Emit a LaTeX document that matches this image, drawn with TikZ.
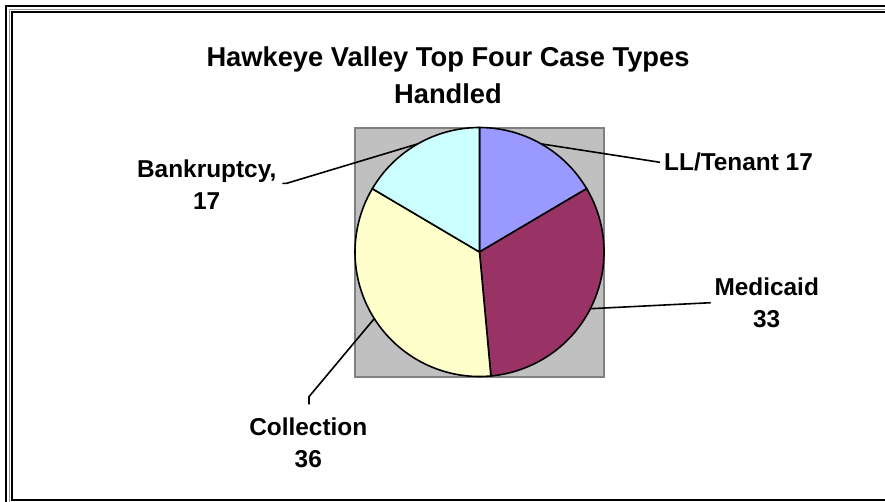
\documentclass[tikz,border=0pt]{standalone}
\usepackage{fontspec}
\setmainfont{Liberation Sans}
\usetikzlibrary{calc}
\definecolor{llcol}{RGB}{153,153,255}
\definecolor{medcol}{RGB}{153,51,102}
\definecolor{colcol}{RGB}{255,255,204}
\definecolor{bkcol}{RGB}{204,255,255}
\definecolor{plotbg}{RGB}{192,192,192}
\definecolor{plotedge}{RGB}{128,128,128}
\definecolor{framegray}{RGB}{150,150,150}
\begin{document}
\begin{tikzpicture}[x=1pt,y=-1pt,
  lbl/.style={font=\fontsize{24.4}{32}\selectfont\bfseries, align=center, inner sep=0pt},
  ttl/.style={font=\fontsize{27.3}{36.6}\selectfont\bfseries, align=center, inner sep=0pt},
  leader/.style={line width=1.6pt, black, line cap=butt},
  slice/.style={draw=black, line width=1.6pt, line join=round}]
\useasboundingbox (0,0) rectangle (885,501);
\fill[white] (0,0) rectangle (885,501);
% frame
\draw[line width=2.2pt] (6.2,6.2) rectangle (910,530);
\draw[line width=1.4pt, framegray] (9.3,9.3) rectangle (905,525);
\draw[line width=2.2pt] (12.3,12.3) rectangle (900,499.8);
% title
\node[ttl] (title) at (448,75) {Hawkeye Valley Top Four Case Types\\Handled};
% plot area
\draw[fill=plotbg, draw=plotedge, line width=2pt] (355,127.5) rectangle (604,376.5);
% pie
\coordinate (c) at (479.5,252);
\filldraw[slice, fill=llcol]  (c) -- ++(-90:124.5) arc[start angle=-90, end angle=-30.583, radius=124.5] -- cycle;
\filldraw[slice, fill=medcol] (c) -- ++(-30.583:124.5) arc[start angle=-30.583, end angle=84.757, radius=124.5] -- cycle;
\filldraw[slice, fill=colcol] (c) -- ++(84.757:124.5) arc[start angle=84.757, end angle=210.583, radius=124.5] -- cycle;
\filldraw[slice, fill=bkcol]  (c) -- ++(210.583:124.5) arc[start angle=210.583, end angle=270, radius=124.5] -- cycle;
\coordinate (pll)  at ($(c)+(-60.29:124.5)$);
\coordinate (pmed) at ($(c)+(27.09:124.5)$);
\coordinate (pcol) at ($(c)+(147.67:124.5)$);
\coordinate (pbk)  at ($(c)+(240.29:124.5)$);
% labels
\node[lbl, anchor=west] (ll) at (664,162) {LL/Tenant 17};
\node[lbl] (med) at (766.7,302.5) {Medicaid\\33};
\node[lbl] (col) at (308.3,442.5) {Collection\\36};
\node[lbl] (bk) at (206.7,184.7) {Bankruptcy,\\17};
% leaders
\coordinate (llend) at (660,162.3);
\coordinate (medend) at (710.7,302.7);
\coordinate (colbend) at (309,396.7);
\coordinate (colend) at (309,404.3);
\coordinate (bkbend) at (286.7,183.3);
\coordinate (bkend) at (282.3,183.3);
\draw[leader] (pll) -- (llend);
\draw[leader] (pmed) -- (medend);
\draw[leader] (pcol) -- (colbend) -- (colend);
\draw[leader] (pbk) -- (bkbend) -- (bkend);
\end{tikzpicture}
\end{document}
